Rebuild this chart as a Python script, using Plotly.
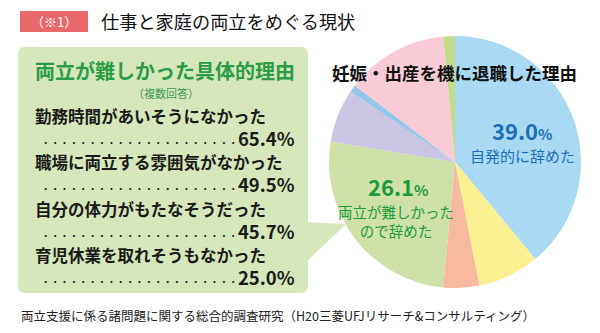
import plotly.graph_objects as go

W, H = 600, 333

# Pie: reasons for leaving work at pregnancy / childbirth (percent)
pie_labels = ["自発的に辞めた", "理由B", "理由C", "両立が難しかったので辞めた",
              "理由E", "理由F", "理由G", "理由H"]
pie_values = [39.0, 7.9, 4.6, 26.1, 6.8, 1.0, 13.1, 1.5]
pie_colors = ["#a9d9f3", "#fbf193", "#f7b9a0", "#cfe1a8",
              "#cac6e4", "#95c6ea", "#f8cbd7", "#c4dc8c"]

# Box: concrete reasons it was hard to balance (multiple answers, percent)
reason_labels = ["勤務時間があいそうになかった", "職場に両立する雰囲気がなかった",
                 "自分の体力がもたなそうだった", "育児休業を取れそうもなかった"]
reason_values = [65.4, 49.5, 45.7, 25.0]

JP = "Noto Sans CJK JP"


def px(x):
    return x / W


def py(y):
    return 1 - y / H


def path(points):
    return "M " + " L ".join(f"{px(x):.4f},{py(y):.4f}" for x, y in points) + " Z"


def rounded_rect(x0, y0, x1, y1, r):
    # rounded rectangle path in paper coordinates
    return (f"M {px(x0 + r)},{py(y0)} L {px(x1 - r)},{py(y0)} "
            f"Q {px(x1)},{py(y0)} {px(x1)},{py(y0 + r)} "
            f"L {px(x1)},{py(y1 - r)} Q {px(x1)},{py(y1)} {px(x1 - r)},{py(y1)} "
            f"L {px(x0 + r)},{py(y1)} Q {px(x0)},{py(y1)} {px(x0)},{py(y1 - r)} "
            f"L {px(x0)},{py(y0 + r)} Q {px(x0)},{py(y0)} {px(x0 + r)},{py(y0)} Z")


cx, cy, R = 455, 162, 126

fig = go.Figure()
fig.add_trace(go.Pie(
    labels=pie_labels, values=pie_values, sort=False, direction="clockwise",
    rotation=0, textinfo="none", hoverinfo="label+percent",
    marker=dict(colors=pie_colors, line=dict(width=0)),
    domain=dict(x=[px(cx - R), px(cx + R)], y=[py(cy + R), py(cy - R)]),
    showlegend=False,
))

box_color = "#d6e7bb"
shapes = [
    # title tag
    dict(type="rect", xref="paper", yref="paper", x0=px(20), x1=px(88),
         y0=py(32), y1=py(11), fillcolor="#e9686c", line=dict(width=0), layer="below"),
    # green callout box and its pointer
    dict(type="path", xref="paper", yref="paper", path=rounded_rect(18, 47, 308, 293, 7),
         fillcolor=box_color, line=dict(width=0), layer="below"),
    dict(type="path", xref="paper", yref="paper",
         path=path([(300, 222), (346, 224), (300, 268)]),
         fillcolor=box_color, line=dict(width=0), layer="above"),
]

ann = []
ann.append(dict(text="（※1）", x=px(54), y=py(21.5), font=dict(family=JP, size=13, color="white")))
ann.append(dict(text="仕事と家庭の両立をめぐる現状", x=px(100), y=py(21), xanchor="left",
                font=dict(family=JP, size=18.2, color="#111111")))
ann.append(dict(text="<b>両立が難しかった具体的理由</b>", x=px(165), y=py(71),
                font=dict(family=JP, size=20, color="#2a9b46")))
ann.append(dict(text="（複数回答）", x=px(166), y=py(93),
                font=dict(family=JP, size=11, color="#3f9a55")))

row_y = [116, 162, 209, 255]
for lab, val, yy in zip(reason_labels, reason_values, row_y):
    ann.append(dict(text=f"<b>{lab}</b>", x=px(34), y=py(yy - 0.5), xanchor="left",
                    font=dict(family=JP, size=16.5, color="#1a1a1a")))
    dots = "<span style='font-size:9.4px'>" + "・" * 21 + "</span>"
    ann.append(dict(text=f"{dots}<b>{val:.1f}%</b>", x=px(296), y=py(yy + 21.5), xanchor="right",
                    font=dict(family=JP, size=18.5, color="#1a1a1a")))

ann.append(dict(text="<b>妊娠・出産を機に退職した理由</b>", x=px(454), y=py(72),
                font=dict(family=JP, size=17.5, color="#111111")))
ann.append(dict(text=f"<b>{pie_values[0]:.1f}<span style='font-size:15px'>%</span></b>",
                x=px(522), y=py(130), font=dict(family=JP, size=22, color="#1d6fb8")))
ann.append(dict(text=f"{pie_labels[0]}", x=px(522), y=py(155),
                font=dict(family=JP, size=15, color="#1d6fb8")))
ann.append(dict(text=f"<b>{pie_values[3]:.1f}<span style='font-size:15px'>%</span></b>",
                x=px(398), y=py(186), font=dict(family=JP, size=22, color="#1a9a3a")))
ann.append(dict(text="両立が難しかった<br>ので辞めた", x=px(396), y=py(221),
                font=dict(family=JP, size=14.5, color="#1a9a3a")))

ann.append(dict(text="両立支援に係る諸問題に関する総合的調査研究（H20三菱UFJリサーチ&コンサルティング）",
                x=px(20), y=py(315), xanchor="left",
                font=dict(family=JP, size=12.5, color="#222222")))

for a in ann:
    a.update(xref="paper", yref="paper", showarrow=False, borderpad=0)
    a.setdefault("xanchor", "center")
    a.setdefault("yanchor", "middle")

fig.update_layout(
    width=W, height=H, margin=dict(l=0, r=0, t=0, b=0),
    paper_bgcolor="white", plot_bgcolor="white",
    shapes=shapes, annotations=ann,
)

fig.write_html("out.html")
